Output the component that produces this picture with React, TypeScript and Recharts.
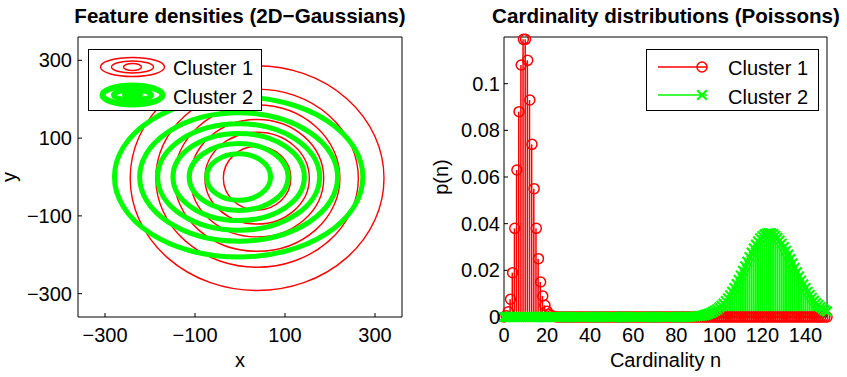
import React from "react";
import {
  ScatterChart,
  ComposedChart,
  XAxis,
  YAxis,
  ReferenceArea,
  Scatter,
  Bar,
  Line,
} from "recharts";

const FONT = '"Liberation Sans", Arial, Helvetica, sans-serif';
const RED = "#ff0000";
const GREEN = "#00ff00";

// left panel: contour levels of the two feature densities
const positionTicks = [-300, -100, 100, 300];
const cluster1Center = [38, -3];
const cluster1RadiusX = [282, 225, 184, 148, 116, 75];
const cluster1RadiusY = [289, 229, 188, 151, 118, 82];
const cluster2Center = [-3, 0];
const cluster2RadiusX = [276, 220, 180, 146, 110, 71];
const cluster2RadiusY = [206, 165, 137, 112, 86, 60];

// right panel: cardinality pmf, n = 0..150
const cardinalityTicks = [0, 20, 40, 60, 80, 100, 120, 140];
const probabilityTicks = [0, 0.02, 0.04, 0.06, 0.08, 0.1];

const cluster1Pmf = [
  0, 0.0005, 0.0023, 0.0076, 0.019, 0.038, 0.063, 0.088, 0.108, 0.119,
  0.119, 0.11, 0.093, 0.074, 0.055, 0.038, 0.025, 0.015, 0.009, 0.005,
  0.0025, 0.0012, 0.0006, 0.0003, 0.0001,
  0, 0, 0, 0, 0, 0, 0, 0, 0, 0, 0, 0, 0, 0, 0, 0, 0, 0, 0, 0,
  0, 0, 0, 0, 0, 0, 0, 0, 0, 0, 0, 0, 0, 0, 0, 0, 0, 0, 0, 0,
  0, 0, 0, 0, 0, 0, 0, 0, 0, 0, 0, 0, 0, 0, 0, 0, 0, 0, 0, 0,
  0, 0, 0, 0, 0, 0, 0, 0, 0, 0, 0, 0, 0, 0, 0, 0, 0, 0, 0, 0,
  0, 0, 0, 0, 0, 0, 0, 0, 0, 0, 0, 0, 0, 0, 0, 0, 0, 0, 0, 0,
  0, 0, 0, 0, 0, 0, 0, 0, 0, 0, 0, 0, 0, 0, 0, 0, 0, 0, 0, 0,
  0, 0, 0, 0, 0, 0,
];

const cluster2Pmf = [
  0, 0, 0, 0, 0, 0, 0, 0, 0, 0, 0, 0, 0, 0, 0, 0, 0, 0, 0, 0,
  0, 0, 0, 0, 0, 0, 0, 0, 0, 0, 0, 0, 0, 0, 0, 0, 0, 0, 0, 0,
  0, 0, 0, 0, 0, 0, 0, 0, 0, 0, 0, 0, 0, 0, 0, 0, 0, 0, 0, 0,
  0, 0, 0, 0, 0, 0, 0, 0, 0, 0, 0, 0, 0, 0, 0, 0, 0, 0, 0, 0,
  0, 0, 0, 0, 0, 0, 0,
  0.0001, 0.0002, 0.0003, 0.0004, 0.0005, 0.0006, 0.0008, 0.0011, 0.0014, 0.0017,
  0.0022, 0.0027, 0.0033, 0.004, 0.0048, 0.0057, 0.0068, 0.008, 0.0093, 0.0108,
  0.0124, 0.0141, 0.0159, 0.0178, 0.0198, 0.0217, 0.0237, 0.0257, 0.0276, 0.0294,
  0.031, 0.0324, 0.0337, 0.0347, 0.0354, 0.0358, 0.036, 0.0359, 0.0355, 0.0348,
  0.0339, 0.0328, 0.0315, 0.03, 0.0284, 0.0267, 0.0249, 0.023, 0.0211, 0.0192,
  0.0174, 0.0156, 0.014, 0.0124, 0.0108, 0.0095, 0.0082, 0.007, 0.006, 0.0051,
  0.0043, 0.0036, 0.0029, 0.0024,
];

const pmfTable = cluster1Pmf.map((p, n) => ({ n, c1: p, c2: cluster2Pmf[n] }));
const centers = [
  { x: cluster1Center[0], y: cluster1Center[1] },
  { x: cluster2Center[0], y: cluster2Center[1] },
];

const fmt = (v: number) => (v < 0 ? `\u2212${Math.abs(v)}` : `${v}`);

const tickStyle = { fill: "#000", fontSize: 20, fontFamily: FONT };
const lineStyle = { stroke: "#000", strokeWidth: 1 };

const ellipseShape = (color: string, sw: number) => (props: any) => {
  const { x, y, width, height } = props;
  return (
    <ellipse
      cx={x + width / 2}
      cy={y + height / 2}
      rx={Math.abs(width) / 2}
      ry={Math.abs(height) / 2}
      fill="none"
      stroke={color}
      strokeWidth={sw}
    />
  );
};

const yLabel = (text: string, dx: number) => ({
  content: (props: any) => {
    const vb = props.viewBox;
    const x = vb.x + dx;
    const y = vb.y + vb.height / 2;
    return (
      <text
        x={x}
        y={y}
        transform={`rotate(-90 ${x} ${y})`}
        textAnchor="middle"
        fontSize={20}
        fill="#000"
        fontFamily={FONT}
      >
        {text}
      </text>
    );
  },
});

const circleDot = (props: any) => {
  const { cx, cy, index } = props;
  if (cx == null || cy == null) return <g key={`c1-${index}`} />;
  return (
    <circle
      key={`c1-${index}`}
      cx={cx}
      cy={cy}
      r={5}
      fill="none"
      stroke={RED}
      strokeWidth={1.5}
    />
  );
};

const crossDot = (props: any) => {
  const { cx, cy, index } = props;
  if (cx == null || cy == null) return <g key={`c2-${index}`} />;
  const s = 4.8;
  return (
    <path
      key={`c2-${index}`}
      d={`M${cx - s},${cy - s}L${cx + s},${cy + s}M${cx - s},${cy + s}L${cx + s},${cy - s}`}
      stroke={GREEN}
      strokeWidth={2.2}
      fill="none"
    />
  );
};

const hiddenShape = () => <g />;

const FeaturePanel = () => (
  <ScatterChart
    width={420}
    height={377}
    margin={{ top: 36, right: 17, bottom: 5, left: 0 }}
  >
    <XAxis
      type="number"
      dataKey="x"
      domain={[-360, 360]}
      ticks={positionTicks}
      tickFormatter={fmt}
      height={55}
      tickSize={-4}
      tickMargin={15}
      tick={tickStyle}
      axisLine={lineStyle}
      tickLine={lineStyle}
      label={{ value: "x", position: "insideBottom", offset: 5, fontSize: 20, fill: "#000" }}
    />
    <YAxis
      type="number"
      dataKey="y"
      domain={[-360, 360]}
      ticks={positionTicks}
      tickFormatter={fmt}
      width={78}
      tickSize={-4}
      tickMargin={10}
      tick={tickStyle}
      axisLine={lineStyle}
      tickLine={lineStyle}
      label={yLabel("y", 16)}
    />
    <XAxis
      xAxisId="top"
      orientation="top"
      type="number"
      dataKey="x"
      domain={[-360, 360]}
      ticks={positionTicks}
      height={1}
      tick={false}
      tickSize={-4}
      axisLine={lineStyle}
      tickLine={lineStyle}
    />
    <YAxis
      yAxisId="right"
      orientation="right"
      type="number"
      dataKey="y"
      domain={[-360, 360]}
      ticks={positionTicks}
      width={1}
      tick={false}
      tickSize={-4}
      axisLine={lineStyle}
      tickLine={lineStyle}
    />
    <Scatter data={centers} shape={hiddenShape} isAnimationActive={false} />
    <Scatter
      data={centers}
      xAxisId="top"
      yAxisId="right"
      shape={hiddenShape}
      isAnimationActive={false}
    />
    {cluster1RadiusX.map((rx, i) => (
      <ReferenceArea
        key={`r${i}`}
        x1={cluster1Center[0] - rx}
        x2={cluster1Center[0] + rx}
        y1={cluster1Center[1] - cluster1RadiusY[i]}
        y2={cluster1Center[1] + cluster1RadiusY[i]}
        shape={ellipseShape(RED, 1.4)}
      />
    ))}
    {cluster2RadiusX.map((rx, i) => (
      <ReferenceArea
        key={`g${i}`}
        x1={cluster2Center[0] - rx}
        x2={cluster2Center[0] + rx}
        y1={cluster2Center[1] - cluster2RadiusY[i]}
        y2={cluster2Center[1] + cluster2RadiusY[i]}
        shape={ellipseShape(GREEN, 5)}
      />
    ))}
  </ScatterChart>
);

const CardinalityPanel = () => (
  <ComposedChart
    width={427}
    height={377}
    data={pmfTable}
    margin={{ top: 36, right: 19, bottom: 5, left: 0 }}
  >
    <XAxis
      type="number"
      dataKey="n"
      domain={[0, 150]}
      ticks={cardinalityTicks}
      height={55}
      tickSize={-4}
      tickMargin={15}
      tick={tickStyle}
      axisLine={lineStyle}
      tickLine={lineStyle}
      label={{ value: "Cardinality n", position: "insideBottom", offset: 5, fontSize: 20, fill: "#000" }}
    />
    <XAxis xAxisId="g" type="number" dataKey="n" domain={[0, 150]} hide />
    <XAxis
      xAxisId="top"
      orientation="top"
      type="number"
      dataKey="n"
      domain={[0, 150]}
      ticks={cardinalityTicks}
      height={1}
      tick={false}
      tickSize={-4}
      axisLine={lineStyle}
      tickLine={lineStyle}
    />
    <YAxis
      type="number"
      domain={[0, 0.12]}
      ticks={probabilityTicks}
      width={84}
      tickSize={-4}
      tickMargin={8}
      tick={tickStyle}
      axisLine={lineStyle}
      tickLine={lineStyle}
      label={yLabel("p(n)", 28)}
    />
    <YAxis
      yAxisId="right"
      orientation="right"
      type="number"
      domain={[0, 0.12]}
      ticks={probabilityTicks}
      width={1}
      tick={false}
      tickSize={-4}
      axisLine={lineStyle}
      tickLine={lineStyle}
    />
    <Bar dataKey="c1" fill={RED} barSize={1.5} isAnimationActive={false} />
    <Line
      dataKey="c1"
      stroke="none"
      dot={circleDot}
      activeDot={false}
      isAnimationActive={false}
    />
    <Bar xAxisId="g" dataKey="c2" fill={GREEN} barSize={2} isAnimationActive={false} />
    <Line
      xAxisId="g"
      dataKey="c2"
      stroke="none"
      dot={crossDot}
      activeDot={false}
      isAnimationActive={false}
    />
  </ComposedChart>
);

const Overlay = () => (
  <svg
    width={847}
    height={377}
    style={{ position: "absolute", left: 0, top: 0, pointerEvents: "none" }}
    fontFamily={FONT}
  >
    <text x={240} y={23} textAnchor="middle" fontSize={20.6} fontWeight="bold">
      Feature densities (2D{"\u2212"}Gaussians)
    </text>
    <text x={666} y={23} textAnchor="middle" fontSize={20.6} fontWeight="bold">
      Cardinality distributions (Poissons)
    </text>

    {/* left legend */}
    <g transform="translate(88,49)">
      <rect x={0.5} y={0.5} width={173} height={61} fill="#fff" stroke="#000" />
      <ellipse cx={44.5} cy={18} rx={32} ry={9.5} fill="none" stroke={RED} strokeWidth={1.4} />
      <ellipse cx={44.5} cy={18} rx={21} ry={6} fill="none" stroke={RED} strokeWidth={1.4} />
      <ellipse cx={44.5} cy={18} rx={9} ry={3.5} fill="none" stroke={RED} strokeWidth={1.4} />
      <text x={85} y={25.5} fontSize={20}>Cluster 1</text>
      <ellipse cx={44.5} cy={46} rx={30} ry={9.5} fill="none" stroke={GREEN} strokeWidth={6} />
      <ellipse cx={44.5} cy={46} rx={19} ry={5} fill="none" stroke={GREEN} strokeWidth={5} />
      <ellipse cx={44.5} cy={46} rx={8} ry={2.5} fill="none" stroke={GREEN} strokeWidth={5} />
      <text x={85} y={55} fontSize={20}>Cluster 2</text>
    </g>

    {/* right legend */}
    <g transform="translate(646,49)">
      <rect x={0.5} y={0.5} width={172} height={61} fill="#fff" stroke="#000" />
      <line x1={12} y1={18} x2={61} y2={18} stroke={RED} strokeWidth={1.5} />
      <circle cx={56} cy={18} r={5} fill="none" stroke={RED} strokeWidth={1.5} />
      <text x={82} y={25.5} fontSize={20}>Cluster 1</text>
      <line x1={12} y1={46} x2={61} y2={46} stroke={GREEN} strokeWidth={1.5} />
      <path d="M51.2,41.2L60.8,50.8M51.2,50.8L60.8,41.2" stroke={GREEN} strokeWidth={2.2} />
      <text x={82} y={55} fontSize={20}>Cluster 2</text>
    </g>
  </svg>
);

export default function App() {
  return (
    <div
      style={{
        position: "absolute",
        left: 0,
        top: 0,
        width: 847,
        height: 377,
        background: "#fff",
        fontFamily: FONT,
      }}
    >
      <div style={{ position: "absolute", left: 0, top: 0 }}>
        <FeaturePanel />
      </div>
      <div style={{ position: "absolute", left: 420, top: 0 }}>
        <CardinalityPanel />
      </div>
      <Overlay />
    </div>
  );
}
